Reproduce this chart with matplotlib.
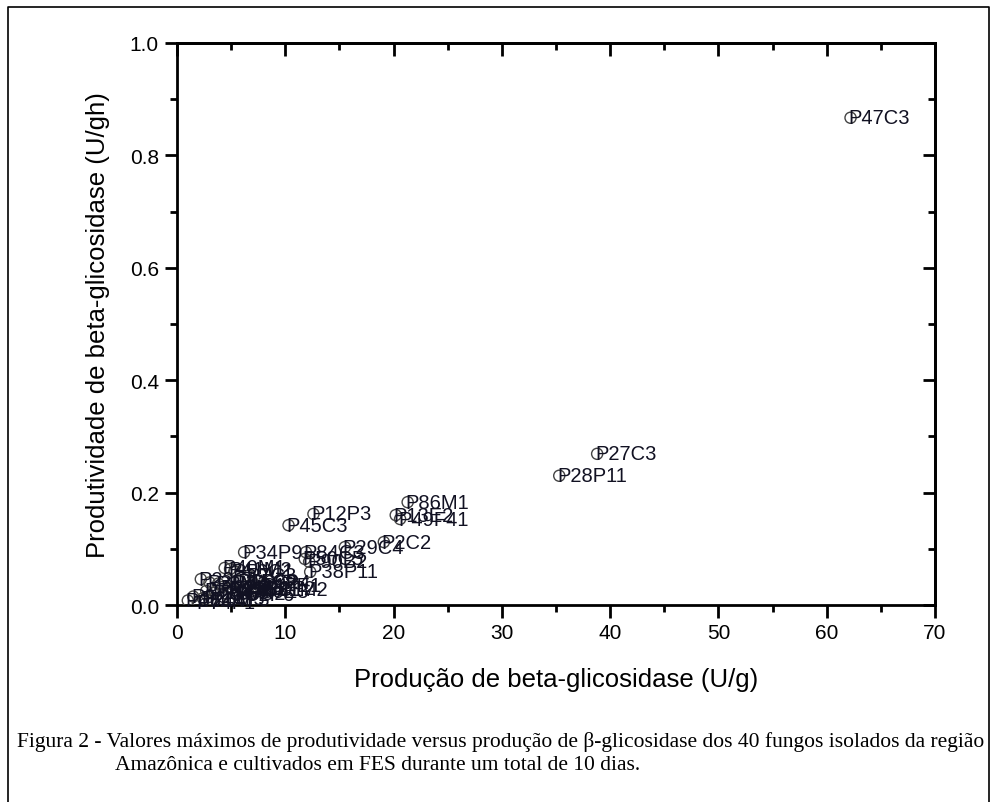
import matplotlib
matplotlib.use("Agg")
import matplotlib.pyplot as plt
from matplotlib.ticker import MultipleLocator

labels = ["P47C3", "P27C3", "P28P11", "P86M1", "P13E2", "P49F41", "P12P3", "P45C3",
          "P2C2", "P29C4", "P34P9", "P84C3", "P90B2", "P50C5", "P38P11",
          "P40M1", "P41M2", "P56C1", "P7C3", "P22C1", "P3P1", "P8M2", "P15C2",
          "P60P4", "P17E1", "P62M3", "P19P2", "P33C1", "P71F2", "P5P8", "P11M4",
          "P36C2", "P52P6", "P80E3", "P9C7", "P23M5", "P44P3", "P66C4", "P74F1", "P81M2"]
producao = [62.2, 38.8, 35.3, 21.3, 20.2, 20.6, 12.6, 10.3,
            19.1, 15.5, 6.2, 11.9, 12.2, 11.8, 12.3,
            4.4, 4.9, 5.3, 6.6, 2.2, 3.0, 3.8, 5.8,
            7.0, 8.0, 4.2, 5.0, 6.2, 7.5, 2.7, 3.5,
            4.6, 5.5, 6.8, 1.5, 2.4, 3.2, 1.0, 2.0, 8.3]
produtividade = [0.867, 0.269, 0.230, 0.183, 0.160, 0.153, 0.162, 0.142,
                 0.112, 0.103, 0.094, 0.094, 0.077, 0.082, 0.059,
                 0.066, 0.064, 0.060, 0.052, 0.046, 0.040, 0.038, 0.042,
                 0.040, 0.035, 0.032, 0.030, 0.028, 0.030, 0.025, 0.022,
                 0.020, 0.018, 0.024, 0.015, 0.012, 0.010, 0.008, 0.005, 0.028]

xlabel = "Produção de beta-glicosidase (U/g)"
ylabel = "Produtividade de beta-glicosidase (U/gh)"
caption1 = "Figura 2 - Valores máximos de produtividade versus produção de β-glicosidase dos 40 fungos isolados da região"
caption2 = "Amazônica e cultivados em FES durante um total de 10 dias."

plt.rcParams['font.family'] = ['Liberation Sans', 'DejaVu Sans']

fig = plt.figure(figsize=(9.97, 8.03), dpi=100)
ax = fig.add_axes([177/997, 1-606/803, (935-177)/997, (606-44)/803])

ax.scatter(producao, produtividade, s=64, facecolors='none', edgecolors='#444444',
           linewidths=1.0, zorder=3)
for lab, x, y in zip(labels, producao, produtividade):
    ax.annotate(lab, (x, y), xytext=(-1.5, 0), textcoords='offset points',
                ha='left', va='center', fontsize=14.5, color='#111122', zorder=4)

ax.set_xlim(0, 70)
ax.set_ylim(0, 1.0)
ax.xaxis.set_major_locator(MultipleLocator(10))
ax.xaxis.set_minor_locator(MultipleLocator(5))
ax.yaxis.set_major_locator(MultipleLocator(0.2))
ax.yaxis.set_minor_locator(MultipleLocator(0.1))
ax.yaxis.set_major_formatter(matplotlib.ticker.FormatStrFormatter('%.1f'))

lw = 2.0
for s in ax.spines.values():
    s.set_linewidth(lw)
ax.tick_params(which='major', direction='out', length=9, width=lw, labelsize=15, pad=4)
ax.tick_params(which='minor', direction='out', length=5, width=lw)

secx = ax.secondary_xaxis('top')
secx.xaxis.set_major_locator(MultipleLocator(10))
secx.xaxis.set_minor_locator(MultipleLocator(5))
secx.tick_params(which='major', direction='in', length=9, width=lw, labeltop=False)
secx.tick_params(which='minor', direction='in', length=5, width=lw)
secx.spines['top'].set_linewidth(lw)
secy = ax.secondary_yaxis('right')
secy.yaxis.set_major_locator(MultipleLocator(0.2))
secy.yaxis.set_minor_locator(MultipleLocator(0.1))
secy.tick_params(which='major', direction='in', length=9, width=lw, labelright=False)
secy.tick_params(which='minor', direction='in', length=5, width=lw)
secy.spines['right'].set_linewidth(lw)

ax.set_xlabel(xlabel, fontsize=18.5, labelpad=18)
ax.set_ylabel(ylabel, fontsize=18.5, labelpad=14)

fig.text(17/997, 1-742/803, caption1, fontsize=15.5, family='Liberation Serif',
         ha='left', va='center')
fig.text(115/997, 1-766/803, caption2, fontsize=15.5, family='Liberation Serif',
         ha='left', va='center')

# outer border (top, left, right)
fig.add_artist(plt.Line2D([8/997, 8/997, 989/997, 989/997],
                          [0, 1-8/803, 1-8/803, 0], transform=fig.transFigure,
                          color='black', linewidth=1.2))

fig.savefig("out.png", dpi=100)
